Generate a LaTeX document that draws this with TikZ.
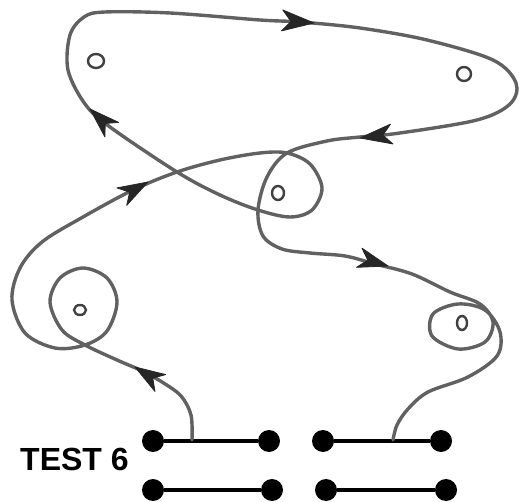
\documentclass[tikz,border=0pt]{standalone}
\usepackage{fontspec}
\setmainfont{Liberation Sans}
\begin{document}
\begin{tikzpicture}[x=1pt,y=-1pt,
  pencil/.style={draw=black!62,line width=3.4pt,line cap=round,line join=round},
  dartfill/.style={fill=black!85,draw=black!85,line width=0.8pt,line join=round},
  ring/.style={draw=black!75,line width=2.4pt},
  dot/.style={circle,fill=black,inner sep=0pt,minimum size=22pt},
  bar/.style={draw=black,line width=3.6pt}]
\useasboundingbox (0,0) rectangle (519,502);
% terminals
\node[dot] (a1) at (153,441) {};
\node[dot] (a2) at (269,441) {};
\node[dot] (a3) at (323,441) {};
\node[dot] (a4) at (441,441) {};
\node[dot] (b1) at (153,490) {};
\node[dot] (b2) at (272,490) {};
\node[dot] (b3) at (326,490) {};
\node[dot] (b4) at (446,490) {};
\draw[bar] (a1) -- (a2);
\draw[bar] (a3) -- (a4);
\draw[bar] (b1) -- (b2);
\draw[bar] (b3) -- (b4);
\node[anchor=base west,inner sep=0pt,font=\fontsize{32}{34}\selectfont\bfseries] (title) at (20,470) {TEST 6};
% small rings
\draw[ring] (96,61) ellipse (8pt and 7pt);
\draw[ring] (464,74) ellipse (7pt and 7pt);
\draw[ring] (278,193) ellipse (6pt and 7pt);
\draw[ring] (80,310) ellipse (6pt and 5pt);
\draw[ring] (462,323) ellipse (5pt and 7pt);
% the route
\draw[pencil] plot[smooth,tension=0.55] coordinates {
 (192,440) (191,415) (181,396) (162,382) (140,370) (117,360) (85,345)
 (62,330) (50,302) (60,278) (83,268) (107,278) (117,302) (107,331) (85,345)
 (55,348) (25,333) (12,300) (20,268) (42,242) (83,217) (133,190) (177,172)
 (220,160) (260,153) (287,153) (310,164) (322,188) (312,210) (290,217) (258,210)
 (220,195) (177,172) (110,127) (85,104) (68,70) (70,35) (84,17) (105,12)
 (170,13) (260,20) (300,22) (360,28) (427,40) (493,60) (516,83) (510,104)
 (477,120) (400,133) (360,137) (327,141) (287,153) (267,177) (258,210)
 (263,236) (282,249) (310,253) (345,256) (375,264) (412,274) (450,292)
 (480,304) (493,322) (485,342) (458,349) (432,336) (433,314) (458,304)
 (485,310) (500,332) (497,356) (468,377) (428,392) (408,409) (397,425) (393,440)};
% arrowheads (darts), tip at the coordinate
\coordinate (t1) at (135,367);
\coordinate (t2) at (148,182);
\coordinate (t3) at (90,109);
\coordinate (t4) at (314,23);
\coordinate (t5) at (360,138);
\coordinate (t6) at (388,266);
\fill[dartfill,shift={(t1)},rotate=147.7] (0,0) -- (-30,-10) -- (-21,0) -- (-30,10) -- cycle;
\fill[dartfill,shift={(t2)},rotate=29.2] (0,0) -- (-30,-10) -- (-21,0) -- (-30,10) -- cycle;
\fill[dartfill,shift={(t3)},rotate=136.5] (0,0) -- (-30,-10) -- (-21,0) -- (-30,10) -- cycle;
\fill[dartfill,shift={(t4)},rotate=-3.7] (0,0) -- (-32,-11) -- (-23,0) -- (-32,10) -- cycle;
\fill[dartfill,shift={(t5)},rotate=-172.9] (0,0) -- (-32,-10) -- (-23,0) -- (-32,10) -- cycle;
\fill[dartfill,shift={(t6)},rotate=-16] (0,0) -- (-30,-10) -- (-21,0) -- (-30,10) -- cycle;
\end{tikzpicture}
\end{document}
